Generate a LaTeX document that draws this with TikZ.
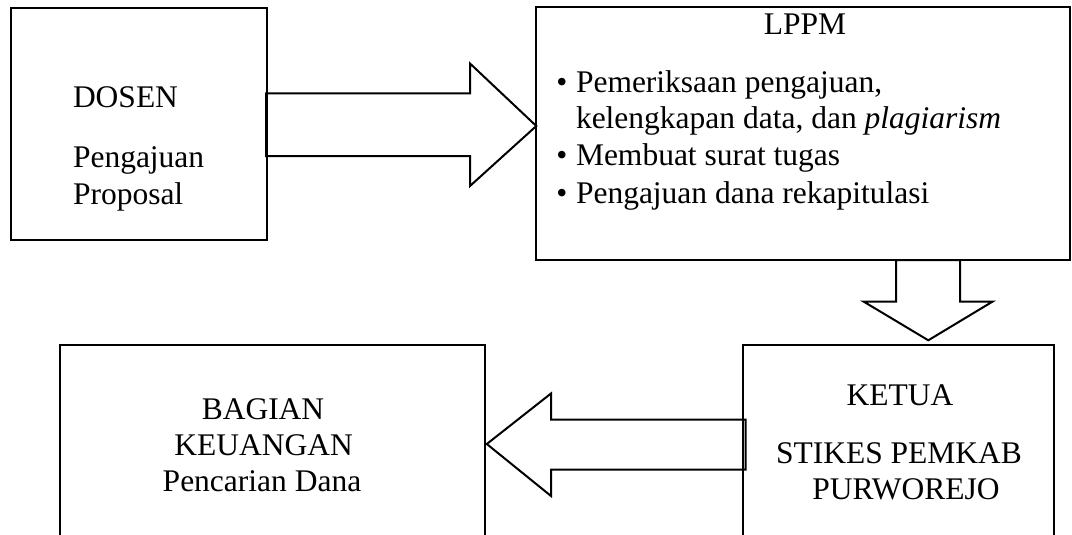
\documentclass[tikz,border=0pt]{standalone}
\usepackage{fontspec}
\setmainfont{Liberation Serif}
\begin{document}
\begin{tikzpicture}[x=1pt,y=-1pt,
  box/.style={draw, line width=2pt, rectangle, inner sep=0pt, outer sep=0pt, anchor=north west},
  blkarrow/.style={draw, line width=2pt, line join=miter},
  txt/.style={inner sep=0pt, outer sep=0pt, font=\fontsize{31.5}{37}\selectfont}]
\useasboundingbox (0,0) rectangle (1072,535);
\clip (0,0) rectangle (1072,535);
% boxes
\node[box, line width=2.5pt, minimum width=256pt, minimum height=232pt] (dosen) at (11,8) {};
\node[box, minimum width=534pt, minimum height=253pt] (lppm) at (536,7) {};
\node[box, minimum width=311pt, minimum height=230pt] (ketua) at (743,345) {};
\node[box, minimum width=425pt, minimum height=230pt] (bagian) at (60,345) {};
% block arrows
\draw[blkarrow] (266,93.5) -- (470,93.5) -- (470,63.5) -- (536.3,126) -- (470,186) -- (470,156) -- (266,156) -- cycle;
\draw[blkarrow] (896,260) -- (896,301.5) -- (863.5,301.5) -- (928.3,340.3) -- (992.7,301.5) -- (960,301.5) -- (960,260) -- cycle;
\draw[blkarrow] (745.5,419.5) -- (551,419.5) -- (551,393.5) -- (486.8,444) -- (551,496) -- (551,469.5) -- (745.5,469.5) -- cycle;
% DOSEN texts
\node[txt, anchor=base west] (t1) at (73,108) {DOSEN};
\node[txt, anchor=base west] (t2) at (73,167) {Pengajuan};
\node[txt, anchor=base west] (t3) at (73,204) {Proposal};
% LPPM texts
\node[txt, anchor=base] (l0) at (805,35) {LPPM};
\node[txt, anchor=base] (b1) at (562,92.7) {•};
\node[txt, anchor=base west] (l1) at (576,92.7) {Pemeriksaan pengajuan,};
\node[txt, anchor=base west] (l2) at (576,128.3) {kelengkapan data, dan \textit{plagiarism}};
\node[txt, anchor=base] (b2) at (562,165.7) {•};
\node[txt, anchor=base west] (l3) at (576,165.7) {Membuat surat tugas};
\node[txt, anchor=base] (b3) at (562,203.3) {•};
\node[txt, anchor=base west] (l4) at (576,203.3) {Pengajuan dana rekapitulasi};
% KETUA texts
\node[txt, anchor=base] (k1) at (900,405.7) {KETUA};
\node[txt, anchor=base] (k2) at (899,463.3) {STIKES PEMKAB};
\node[txt, anchor=base] (k3) at (906,499.3) {PURWOREJO};
% BAGIAN texts
\node[txt, anchor=base] (g1) at (263,419.3) {BAGIAN};
\node[txt, anchor=base] (g2) at (263.6,455) {KEUANGAN};
\node[txt, anchor=base] (g3) at (262,491.7) {Pencarian Dana};
\end{tikzpicture}
\end{document}
